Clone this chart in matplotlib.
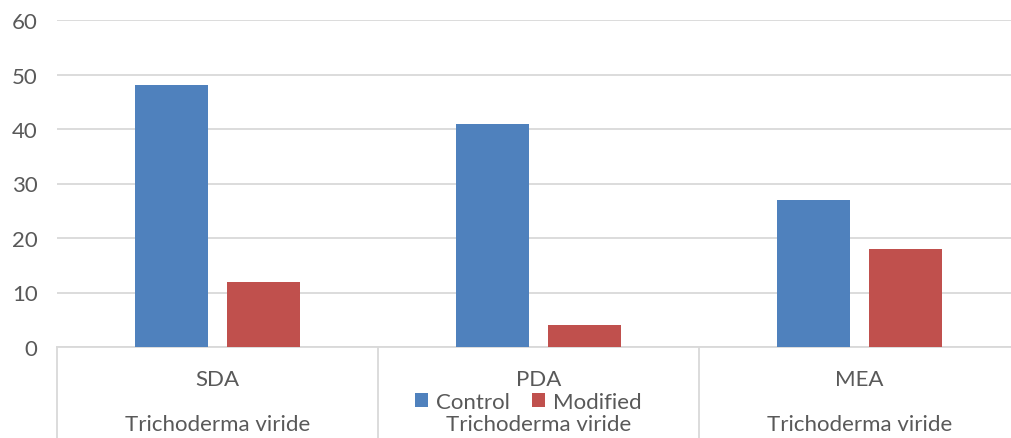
import numpy as np
import matplotlib.pyplot as plt

# growth on each medium
media = ['SDA', 'PDA', 'MEA']
species = 'Trichoderma viride'
control = [48, 41, 27]
modified = [12, 4, 18]
yticks = [0, 10, 20, 30, 40, 50, 60]

blue = '#4F81BD'
red = '#C0504D'
grid = '#D9D9D9'
txt = '#595959'
fs = 16

plt.rcParams['font.family'] = ['Lato', 'DejaVu Sans']

fig = plt.figure(figsize=(10.11, 4.39), dpi=100)
W, H = 1011, 439
ax = fig.add_axes([57 / W, 1 - 348 / H, (1020 - 57) / W, (348 - 21) / H])

x = np.arange(len(media))
bw = 0.227
ax.bar(x - 0.143, control, bw, color=blue, label='Control', zorder=3)
ax.bar(x + 0.142, modified, bw, color=red, label='Modified', zorder=3)

ax.set_xlim(-0.5, 2.5)
ax.set_ylim(0, 60)
ax.set_yticks(yticks)
ax.yaxis.grid(True, color=grid, linewidth=1.3, zorder=0)
ax.set_xticks([])
ax.tick_params(axis='y', length=0, pad=14, labelsize=fs, labelcolor=txt)
for s in ['top', 'right', 'left']:
    ax.spines[s].set_visible(False)
ax.spines['bottom'].set_color(grid)
ax.spines['bottom'].set_linewidth(1.3)

# two-level category axis
tr = ax.get_xaxis_transform()
for b in [-0.5, 0.5, 1.5, 2.5]:
    ax.plot([b, b], [0, -0.3], transform=tr, color=grid, lw=1.3, clip_on=False)
for i, m in enumerate(media):
    ax.text(i, -0.098, m, transform=tr, ha='center', va='center', fontsize=fs, color=txt)
    ax.text(i, -0.235, species, transform=tr, ha='center', va='center', fontsize=fs, color=txt)

fig.legend(loc='center', bbox_to_anchor=(528 / W, 1 - 403 / H), ncol=2, frameon=False,
           fontsize=fs, labelcolor=txt, handlelength=0.6, handleheight=0.6,
           handletextpad=0.35, columnspacing=1.0, borderpad=0)

fig.savefig('out.png', dpi=100)
